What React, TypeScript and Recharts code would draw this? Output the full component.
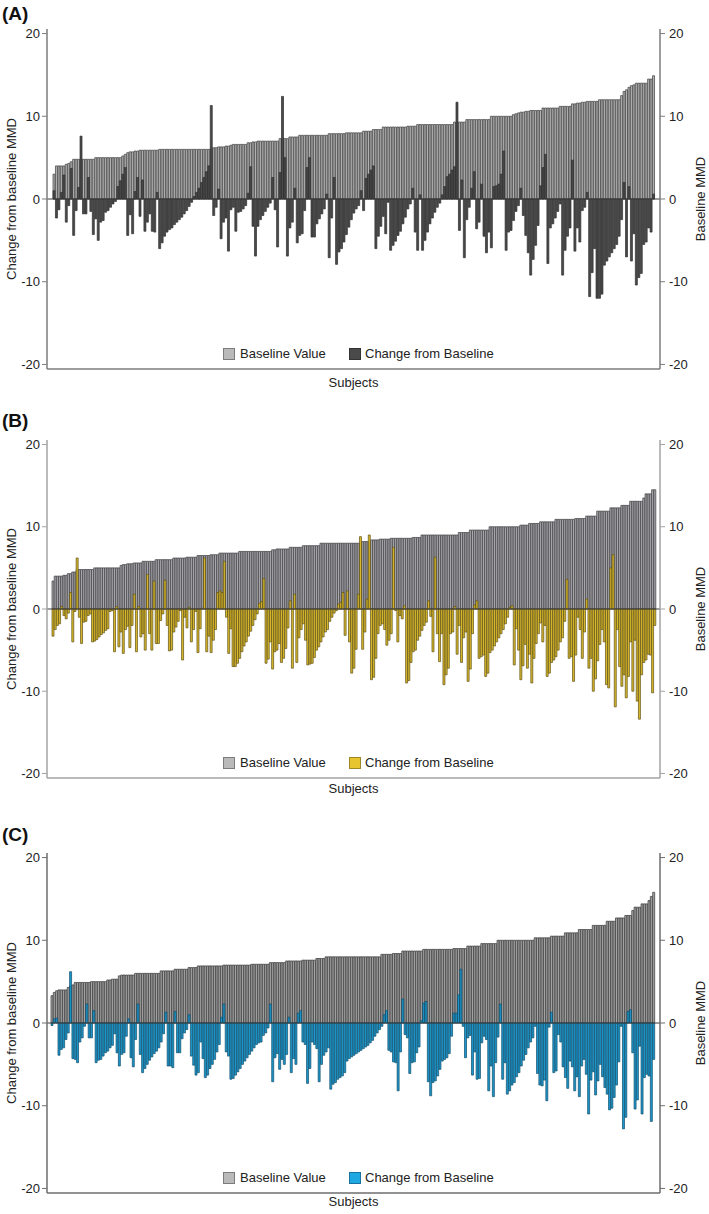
import React from 'react';
import { ComposedChart, Bar, XAxis, YAxis, ReferenceLine, Legend } from 'recharts';

const FONT = '"Liberation Sans", Arial, Helvetica, sans-serif';
const Y_TICKS = [-20, -10, 0, 10, 20];

// ---- Panel A ----
const baselineA = [
  3.0, 4.0, 4.0, 4.0, 4.0, 4.2, 4.3, 4.5,
  4.8, 4.8, 4.8, 4.8, 4.8, 4.8, 4.8, 4.8, 4.8,
  5.0, 5.0, 5.0, 5.0, 5.0, 5.0, 5.0, 5.0, 5.0, 5.0, 5.0,
  5.2, 5.4, 5.6, 5.7, 5.7, 5.8, 5.8,
  5.9, 5.9, 5.9, 5.9, 5.9, 5.9, 5.9, 5.9,
  6.0, 6.0, 6.0, 6.0, 6.0, 6.0, 6.0, 6.0, 6.0, 6.0, 6.0,
  6.0, 6.0, 6.0, 6.0, 6.0, 6.0, 6.0, 6.0, 6.0, 6.0, 6.0,
  6.2, 6.2, 6.3, 6.3, 6.3, 6.4, 6.4, 6.5,
  6.6, 6.6, 6.6, 6.6, 6.6, 6.6,
  6.8, 6.8, 6.9, 6.9, 7.0, 7.0, 7.0, 7.0,
  7.0, 7.0, 7.0, 7.0, 7.0,
  7.3, 7.3, 7.3, 7.3,
  7.5, 7.5, 7.5, 7.5,
  7.7, 7.7, 7.7, 7.7, 7.7, 7.7, 7.7, 7.7, 7.7, 7.7, 7.7, 7.7,
  7.9, 7.9, 7.9, 7.9, 7.9, 7.9, 7.9,
  8.0, 8.0, 8.0, 8.0, 8.0, 8.0, 8.0,
  8.2, 8.2, 8.2, 8.2,
  8.4, 8.4, 8.4, 8.4,
  8.7, 8.7, 8.7, 8.7, 8.7, 8.7, 8.7, 8.7, 8.7, 8.7,
  8.8, 8.8, 8.8, 8.8,
  9.0, 9.0, 9.0, 9.0, 9.0, 9.0, 9.0, 9.0, 9.0, 9.0, 9.0, 9.0, 9.0, 9.0, 9.0,
  9.3, 9.3, 9.3, 9.3, 9.3,
  9.6, 9.6, 9.6, 9.6, 9.6, 9.6, 9.6, 9.6, 9.6, 9.6,
  10.0, 10.0, 10.0, 10.0, 10.0, 10.0, 10.0, 10.0, 10.0,
  10.2, 10.3, 10.4, 10.5, 10.5, 10.6, 10.6,
  10.7, 10.7, 10.7, 10.7, 10.7,
  11.0, 11.0, 11.0, 11.0, 11.0, 11.0, 11.0,
  11.2, 11.2, 11.2, 11.2, 11.2,
  11.5, 11.5, 11.6, 11.6, 11.7, 11.7,
  11.8, 11.8, 11.8, 11.8, 11.8,
  12.0, 12.0, 12.0, 12.0, 12.0, 12.0, 12.0, 12.0, 12.0,
  12.5, 13.0, 13.2, 13.5, 13.7, 13.8,
  14.0, 14.0, 14.0, 14.0, 14.0,
  14.5, 14.5, 14.9,
];

const changeA = [
  1.0, -2.3, -1.3, 0.8, 2.9, -2.8, -0.8, 3.7, -4.4, -1.4,
  1.4, 7.6, -1.8, -1.8, 2.6, -1.5, -4.3, -2.4, -5.0, -2.8,
  -2.6, -1.6, -1.4, -1.0, -0.6, -0.3, 1.5, 2.2, 3.0, 3.8,
  -4.4, -1.9, -4.2, 0.9, 2.6, -2.1, 2.3, -3.9, -2.8, -1.8,
  -3.9, -4.0, 0.8, -6.0, -5.3, -4.5, -4.0, -3.7, -3.5, -3.1,
  -2.8, -2.5, -2.2, -1.8, -1.4, -0.9, -0.4, 0.3, 0.8, 1.3,
  2.0, 2.6, 3.3, 4.0, 11.3, -2.0, -1.0, 1.2, -4.8, -2.8,
  -2.3, -6.3, -1.3, -1.0, -3.9, -1.6, -1.5, -1.2, -0.8, 0.7,
  3.9, -3.3, -6.9, -3.3, -2.5, -2.0, -1.5, -1.0, -0.5, 2.6,
  -1.3, -5.8, 3.2, 12.4, 5.0, -6.9, -3.5, -2.8, 1.3, -5.3,
  -4.4, -4.2, -1.4, 3.8, 5.0, -4.6, -4.6, -3.0, -2.4, -1.8,
  -1.2, 0.6, -7.1, -2.3, 2.6, -7.9, -6.4, -6.0, -5.2, -4.3,
  -3.4, -2.5, -1.7, -1.2, -0.8, 1.0, -1.4, 2.5, 3.0, 3.5,
  4.0, -6.0, -4.5, -3.3, -2.1, -4.2, -0.4, -6.2, -5.6, -5.1,
  -4.4, -3.9, -3.0, -2.2, -1.2, -0.6, 1.3, -4.0, -6.2, 0.5,
  -6.2, -5.0, -4.0, -3.0, -2.3, -1.6, -1.0, -0.5, 0.5, 1.5,
  2.7, 3.0, 3.5, 3.9, 11.7, -3.8, 2.3, -7.1, -2.5, -1.0,
  1.3, 3.3, -3.6, -2.8, 1.8, -4.5, -6.5, -4.0, -5.9, 1.5,
  1.6, 1.8, 3.0, 5.8, -6.2, -4.0, -3.8, -2.6, -1.5, -0.8,
  1.3, -2.0, -4.4, -6.5, -9.2, -7.3, -5.6, -3.2, 1.6, 3.8,
  5.4, -7.8, -3.5, -3.0, -2.3, -1.5, -0.6, -9.2, -6.2, -4.5,
  -3.5, 4.7, -6.3, -3.5, -5.2, -1.4, -1.0, 0.8, -11.8, -8.9,
  -6.0, -12.0, -12.0, -11.5, -8.0, -7.5, -7.0, -6.5, -6.0, -5.5,
  -4.5, -2.5, 2.0, -7.0, 1.5, -7.5, -4.2, -10.4, -9.5, -9.0,
  -5.5, -5.2, -3.5, -4.0, 0.6,
];

// ---- Panel B ----
const baselineB = [
  3.4, 4.0, 4.0, 4.0, 4.0, 4.1, 4.1, 4.3, 4.3, 4.5, 4.5,
  4.8, 4.8, 4.8, 4.8, 4.8, 4.8, 4.8, 4.8,
  5.0, 5.0, 5.0, 5.0, 5.0, 5.0, 5.0, 5.0, 5.0, 5.0, 5.0, 5.0,
  5.3, 5.4, 5.4, 5.5, 5.5, 5.5,
  5.6, 5.6, 5.6, 5.6,
  5.8, 5.8, 5.8, 5.8, 5.8, 5.8,
  6.0, 6.0, 6.0, 6.0, 6.0, 6.0, 6.0, 6.0,
  6.2, 6.2, 6.2, 6.2, 6.2, 6.2,
  6.3, 6.3, 6.3, 6.3, 6.3,
  6.5, 6.5, 6.5, 6.5, 6.5, 6.5,
  6.6, 6.6, 6.6, 6.6,
  6.8, 6.8, 6.8, 6.8, 6.8, 6.8, 6.8, 6.8, 6.8,
  7.0, 7.0, 7.0, 7.0, 7.0, 7.0, 7.0, 7.0, 7.0, 7.0, 7.0, 7.0, 7.0, 7.0, 7.0,
  7.2, 7.2, 7.3, 7.3, 7.3, 7.3, 7.3, 7.3,
  7.5, 7.5, 7.5, 7.5, 7.5, 7.5,
  7.7, 7.7, 7.7, 7.7, 7.7, 7.7, 7.7, 7.7,
  8.0, 8.0, 8.0, 8.0, 8.0, 8.0, 8.0, 8.0, 8.0, 8.0,
  8.0, 8.0, 8.0, 8.0, 8.0, 8.0, 8.0, 8.0, 8.0,
  8.2, 8.2, 8.2, 8.2,
  8.4, 8.4, 8.4, 8.4,
  8.5, 8.5, 8.5, 8.5, 8.5,
  8.6, 8.6, 8.6, 8.6, 8.6, 8.6, 8.6, 8.6, 8.6, 8.6,
  8.7, 8.7, 8.7, 8.7,
  9.0, 9.0, 9.0, 9.0, 9.0, 9.0, 9.0, 9.0, 9.0, 9.0,
  9.0, 9.0, 9.0, 9.0, 9.0, 9.0, 9.0,
  9.3, 9.3, 9.3, 9.3, 9.3,
  9.6, 9.6, 9.6, 9.6, 9.6, 9.6, 9.6, 9.6, 9.6,
  10.0, 10.0, 10.0, 10.0, 10.0, 10.0, 10.0, 10.0, 10.0, 10.0, 10.0, 10.0, 10.0, 10.0,
  10.2, 10.2, 10.2, 10.2,
  10.4, 10.4, 10.4, 10.4, 10.4,
  10.6, 10.6, 10.6, 10.6, 10.6, 10.6, 10.6,
  10.9, 10.9, 10.9, 10.9, 10.9, 10.9, 10.9, 10.9, 10.9,
  11.0, 11.0, 11.0, 11.0, 11.0,
  11.3, 11.3, 11.3, 11.3, 11.3,
  11.9, 11.9, 11.9, 11.9, 11.9, 11.9,
  12.3, 12.3, 12.3, 12.3, 12.3,
  12.6, 12.6, 12.6, 12.6,
  13.1, 13.1, 13.1, 13.1, 13.1, 13.1,
  13.5, 14.0, 14.0, 14.0, 14.5, 14.5,
];

const changeB = [
  -3.3, -2.5, -2.0, -1.8, 0.3, -0.8, -1.2, -0.5, 2.0, -4.0,
  -0.3, 6.2, -1.0, -4.2, -1.6, -1.5, -0.8, -0.6, -4.0, -3.9,
  -3.7, -3.4, -3.1, -2.9, -2.6, -2.4, -0.3, -0.2, -5.2, 0.3,
  -4.6, -2.8, -5.4, -2.5, -2.1, -4.7, -2.0, 1.8, -5.2, 0.3,
  -3.4, -3.0, -5.0, 4.2, -3.0, -5.0, 3.4, -4.2, -4.2, -1.4,
  -0.6, 3.5, -2.0, -5.1, -5.0, -2.8, -2.2, -1.5, -0.2, -6.2,
  -1.0, -2.3, 0.2, -4.0, -2.5, -0.3, -5.3, -2.4, 0.1, 6.2,
  -5.2, -3.3, -5.3, -3.8, -2.5, 2.0, 2.2, 2.0, 5.8, -1.0,
  -5.4, -2.4, -7.0, -7.0, -6.6, -6.0, -5.2, -4.5, -4.0, -3.3,
  -2.7, -2.0, -1.3, -0.6, 0.7, 0.9, 3.7, -6.6, -6.1, -4.0,
  -7.3, -5.2, -5.0, -4.2, -6.5, -6.0, -4.8, -2.3, 1.0, -7.2,
  1.8, -6.5, -3.5, -2.5, -1.8, -3.8, -6.8, -6.7, -6.6, -5.9,
  -5.0, -4.6, -4.0, -3.4, -2.8, -2.5, -1.5, -1.0, -0.5, -0.2,
  0.6, 0.8, 2.0,
  -3.2, 2.2, -4.0, -7.8, -7.2, -4.9, 1.8, 8.8, -4.9, -2.8,
  1.2, 9.0, -8.6, -8.3, -6.0, -3.0, -2.0, -1.8, -2.5, -4.4,
  -3.8, -3.0, 7.5, -0.2, -4.0, -0.8, -1.2, 0.4, -9.0, -8.7,
  -6.5, -5.2, -5.0, -3.8, -3.3, -2.6, -2.0, -1.6, 1.0, -0.9,
  -5.2, 6.3, -3.0, -6.4, -3.0, -9.2, -8.0, -7.2, -3.0, -2.8,
  0.3, -5.5, -2.0, -6.5, -3.5, -2.8, -8.8, -7.3, -3.0, 0.5,
  1.0, -6.0, -5.8, -5.6, -8.2, -7.8, -5.3, -5.0, -4.5, -4.0,
  -3.5, -3.0, -2.5, -1.8, -1.0, 0.2, 0.4, -6.8, -2.4, -5.0,
  -8.6, -6.9, -4.3, -7.2, -5.5, -9.0, -6.0, -4.2, -3.0, -1.7,
  -4.0, -2.0, -8.2, -7.8, -6.5, -6.2, -5.8, -5.0, -4.0, -3.5,
  -1.5, 3.6, -6.0, -5.8, -8.8, -5.6, -1.0, -2.5, -6.0, -2.8,
  1.2, -7.2, -6.0, -10.0, -8.5, -6.3, -4.3, -2.5, -4.0, -9.2,
  -9.6, 5.0, 6.6, -11.9, -2.5, -7.0, -9.4, -8.0, -10.8, -8.2,
  -4.0, -10.0, -3.8, -11.2, -13.4, -8.0, -6.5, -6.2, -5.5, -5.6,
  -10.2, -2.0,
];

// ---- Panel C ----
const baselineC = [
  3.3, 3.7, 3.9, 4.0, 4.0, 4.0, 4.0, 4.3, 4.5, 4.6,
  4.9, 4.9, 4.9, 4.9, 4.9, 4.9, 4.9,
  5.0, 5.0, 5.0, 5.0, 5.0, 5.0, 5.0,
  5.2, 5.2, 5.3, 5.3, 5.3,
  5.7, 5.8, 5.8, 5.8, 5.8, 5.8, 5.8,
  6.0, 6.0, 6.0, 6.0, 6.0, 6.0, 6.0, 6.0, 6.0, 6.0, 6.0,
  6.3, 6.3, 6.3, 6.3, 6.3, 6.3,
  6.5, 6.5, 6.5, 6.5, 6.5, 6.5,
  6.7, 6.7, 6.7, 6.7,
  6.9, 6.9, 6.9, 6.9, 6.9, 6.9, 6.9, 6.9, 6.9, 6.9, 6.9,
  7.0, 7.0, 7.0, 7.0, 7.0, 7.0, 7.0, 7.0, 7.0, 7.0, 7.0, 7.0,
  7.1, 7.1, 7.1, 7.1, 7.1, 7.1, 7.1, 7.1,
  7.3, 7.3, 7.3, 7.3, 7.3, 7.3, 7.3,
  7.5, 7.5, 7.5, 7.5, 7.5, 7.5, 7.5,
  7.6, 7.6, 7.6, 7.6, 7.6, 7.6,
  7.8, 7.8, 7.8, 7.8,
  8.0, 8.0, 8.0, 8.0, 8.0, 8.0, 8.0, 8.0, 8.0, 8.0, 8.0, 8.0,
  8.0, 8.0, 8.0, 8.0, 8.0, 8.0, 8.0, 8.0, 8.0, 8.0, 8.0, 8.0,
  8.3, 8.3, 8.3, 8.3, 8.3,
  8.4, 8.4, 8.4, 8.4,
  8.7, 8.7, 8.7, 8.7, 8.7, 8.7, 8.7, 8.7, 8.7,
  8.9, 8.9, 8.9, 8.9, 8.9, 8.9, 8.9, 8.9, 8.9, 8.9, 8.9, 8.9, 8.9,
  9.0, 9.0, 9.0, 9.0, 9.0, 9.0,
  9.3, 9.3, 9.3, 9.3, 9.3, 9.3,
  9.6, 9.6, 9.6, 9.6, 9.6, 9.6, 9.6,
  10.0, 10.0, 10.0, 10.0, 10.0, 10.0, 10.0, 10.0,
  10.0, 10.0, 10.0, 10.0, 10.0, 10.0, 10.0, 10.0,
  10.3, 10.3, 10.3, 10.3, 10.3, 10.3, 10.3,
  10.5, 10.5, 10.5, 10.5, 10.5, 10.5,
  10.9, 10.9, 10.9, 10.9, 10.9, 10.9,
  11.3, 11.3, 11.3, 11.3, 11.3, 11.3,
  11.8, 11.8, 11.8, 11.8, 11.8, 11.8,
  12.3, 12.3, 12.3, 12.3,
  12.7, 12.7, 12.7, 12.7,
  13.0, 13.0, 13.0, 13.6,
  14.0, 14.0, 14.0, 14.4, 14.4, 14.4, 14.8, 15.3, 15.8,
];

const changeC = [
  -0.3, 0.5, 0.6, -3.9, -3.2, -3.0, -2.0, -1.2, 6.2, -4.3,
  -4.4, -4.8, -2.3, -1.8, -0.4, 2.3, -1.8, -1.8, 1.5, -4.8,
  -4.5, -4.4, -4.0, -3.6, -3.4, -3.0, -2.7, -1.3, -3.6, -5.2,
  -3.8, -3.6, -1.6, 0.5, -4.2, -5.3, -2.0, 2.3, -3.8, -6.0,
  -5.5, -5.0, -4.5, -4.1, -3.7, -3.4, -3.0, -2.3, -1.3, 1.3,
  -5.2, -5.2, -5.4, 1.4, -3.6, -3.6, -1.9, -1.2, -0.8, 1.0,
  -4.0, -5.1, -6.3, -6.0, -2.3, -4.3, -6.6, -6.3, -5.5, -5.0,
  -4.4, -3.5, -2.6, 0.7, 2.3, -3.5, -4.0, -6.8, -6.7, -6.3,
  -5.9, -5.5, -5.0, -4.6, -4.2, -3.8, -3.4, -3.0, -2.6, -2.4,
  -2.3, -1.5, -1.2, -0.6, 2.3, -7.1, -4.2, -3.7, -5.6, -4.4,
  -5.0, -3.8, 0.7, -6.0, -4.3, -5.0, 1.2, 1.5, -2.3, -2.6,
  -7.3, -5.5, -2.3, -2.6, -3.1, -7.1, -5.0, -3.9, -3.5, -3.0,
  -8.0, -7.4, -7.2, -6.8, -6.6, -6.4, -6.0, -4.6, -4.3, -4.1,
  -3.9, -3.7, -3.5, -3.3, -3.1, -2.9,
  -2.7, -2.4, -2.1, -1.6, -1.2, -0.8, -0.4, 1.0, 1.5, -3.3,
  -3.5, -4.7, -4.8, -8.2, -3.5, 2.9, -1.4, -1.8, -6.1, -4.8,
  -4.7, -3.6, -2.9, 0.3, 2.4, 2.6, -7.1, -8.8, -7.2, -7.0,
  -6.4, -5.6, -4.6, -4.4, -4.2, -3.7, -1.6, 1.2, 1.2, 3.4,
  6.5, -0.4, -4.2, -1.8, -1.5, -6.3, -3.5, -6.8, -6.7, -2.4,
  -1.6, -2.0, -8.2, -5.2, -8.9, -4.8, -1.7, 2.3, -6.8, -4.8,
  -8.6, -8.2, -7.5, -7.2, -6.5, -6.0, -5.2, -4.5, -3.8, -3.0,
  -2.3, -1.8, -0.4, -6.1, -7.5, -7.6, -6.9, -9.4, -0.5, 1.3,
  -6.0, -5.8, -1.4, -2.3, -5.3, -6.6, -7.9, -4.6, -5.3, -8.2,
  -6.5, -8.9, -5.2, -4.4, -6.2, -11.0, -6.9, -5.9, -8.7, -7.0,
  -5.0, -6.5, -7.8, -8.6, -10.5, -10.3, -9.0, -7.5, -4.7, -0.4,
  -12.8, -11.4, 1.4, 1.6, -3.6, -10.4, -9.3, -2.8, -11.0, -6.6,
  -6.2, -6.4, -11.9, -4.4,
];

interface PanelProps {
  tag: string;
  top: number;
  height: number;
  titleTop: number;
  baseline: number[];
  change: number[];
  baseFill: string;
  baseStroke: string;
  changeFill: string;
  changeStroke: string;
  swatchFill: string;
  swatchBorder: string;
  frame: string;
  padLeft: number;
  padRight: number;
  xAxisHeight: number;
  subjectsOffset: number;
  legendTop: number;
}

const PanelLegend = ({ swatchFill, swatchBorder }: { swatchFill: string; swatchBorder: string }) => (
  <div style={{ position: 'relative', width: 709, height: 16, fontFamily: FONT, fontSize: 13, color: '#222' }}>
    <span style={{ position: 'absolute', left: 223, top: 2, width: 12, height: 12, boxSizing: 'border-box', background: '#bababa', border: '1px solid #7c7c7c' }} />
    <span style={{ position: 'absolute', left: 240, top: 0, lineHeight: '16px', whiteSpace: 'nowrap' }}>Baseline Value</span>
    <span style={{ position: 'absolute', left: 349, top: 2, width: 12, height: 12, boxSizing: 'border-box', background: swatchFill, border: `1px solid ${swatchBorder}` }} />
    <span style={{ position: 'absolute', left: 365, top: 0, lineHeight: '16px', whiteSpace: 'nowrap' }}>Change from Baseline</span>
  </div>
);

const Panel = (p: PanelProps) => {
  const data = p.change.map((c, i) => ({ subject: `S${i + 1}`, baseline: p.baseline[i], change: c }));
  const tick = { fill: '#222', fontSize: 13, fontFamily: FONT };
  return (
    <>
      <div style={{ position: 'absolute', left: 2, top: p.titleTop, fontFamily: FONT, fontWeight: 'bold', fontSize: 19, lineHeight: '20px', color: '#111', zIndex: 2 }}>
        {p.tag}
      </div>
      <div style={{ position: 'absolute', left: 0, top: p.top }}>
        <ComposedChart
          width={709}
          height={p.height}
          data={data}
          margin={{ top: 29, right: 0, bottom: 1, left: 0 }}
          barCategoryGap={0}
          barGap={0}
        >
          <XAxis
            xAxisId="bottom"
            dataKey="subject"
            tick={false}
            tickLine={false}
            height={p.xAxisHeight}
            axisLine={{ stroke: p.frame, strokeWidth: 1.5 }}
            padding={{ left: p.padLeft, right: p.padRight }}
            label={{ value: 'Subjects', position: 'insideTop', offset: p.subjectsOffset, fill: '#222', fontSize: 13, fontFamily: FONT }}
          />
          <XAxis
            xAxisId="top"
            orientation="top"
            dataKey="subject"
            tick={false}
            tickLine={false}
            height={0}
            axisLine={{ stroke: p.frame, strokeWidth: 1.5 }}
            padding={{ left: p.padLeft, right: p.padRight }}
          />
          <YAxis
            yAxisId="left"
            width={47}
            domain={[-20.55, 20.55]}
            ticks={Y_TICKS}
            tick={tick}
            tickSize={5}
            tickMargin={2}
            tickLine={{ stroke: p.frame }}
            axisLine={{ stroke: p.frame, strokeWidth: 1.5 }}
            label={{ value: 'Change from baseline MMD', angle: -90, position: 'insideLeft', offset: 11, fill: '#222', fontSize: 13, fontFamily: FONT, style: { textAnchor: 'middle' } }}
          />
          <YAxis
            yAxisId="right"
            orientation="right"
            width={49}
            domain={[-20.55, 20.55]}
            ticks={Y_TICKS}
            tick={tick}
            tickSize={5}
            tickMargin={4}
            tickLine={{ stroke: p.frame }}
            axisLine={{ stroke: p.frame, strokeWidth: 1.5 }}
            label={{ value: 'Baseline MMD', angle: -90, position: 'insideRight', offset: 9, fill: '#222', fontSize: 13, fontFamily: FONT, style: { textAnchor: 'middle' } }}
          />
          <Bar
            xAxisId="bottom"
            yAxisId="right"
            dataKey="baseline"
            name="Baseline Value"
            fill={p.baseFill}
            stroke={p.baseStroke}
            strokeWidth={0.75}
            isAnimationActive={false}
          />
          <Bar
            xAxisId="top"
            yAxisId="left"
            dataKey="change"
            name="Change from Baseline"
            fill={p.changeFill}
            stroke={p.changeStroke}
            strokeWidth={0.7}
            isAnimationActive={false}
          />
          <ReferenceLine xAxisId="bottom" yAxisId="left" y={0} stroke="#3a3a3a" strokeWidth={1} />
          <Legend
            layout="horizontal"
            verticalAlign="middle"
            align="center"
            wrapperStyle={{ left: 0, top: p.legendTop, width: 709, margin: 0 }}
            content={() => <PanelLegend swatchFill={p.swatchFill} swatchBorder={p.swatchBorder} />}
          />
        </ComposedChart>
      </div>
    </>
  );
};

export default function App() {
  return (
    <div style={{ position: 'relative', width: 709, height: 1214, background: '#fff', overflow: 'hidden' }}>
      <style>{'body{margin:0}'}</style>
      <Panel
        tag="(A)" top={0} height={400} titleTop={4}
        baseline={baselineA} change={changeA}
        baseFill="#b3b3b3" baseStroke="#474747"
        changeFill="#4a4a4a" changeStroke="#2e2e2e"
        swatchFill="#4a4a4a" swatchBorder="#333"
        frame="#7d7d7d" padLeft={6} padRight={5}
        xAxisHeight={30} subjectsOffset={9} legendTop={346}
      />
      <Panel
        tag="(B)" top={411} height={398} titleTop={411}
        baseline={baselineB} change={changeB}
        baseFill="#a9a9ad" baseStroke="#46464a"
        changeFill="#d9b92c" changeStroke="#5e5014"
        swatchFill="#e6c52e" swatchBorder="#9c8626"
        frame="#a3a3a3" padLeft={5} padRight={4}
        xAxisHeight={30} subjectsOffset={6} legendTop={344}
      />
      <Panel
        tag="(C)" top={824} height={390} titleTop={825}
        baseline={baselineC} change={changeC}
        baseFill="#a6a6a6" baseStroke="#3e3e3e"
        changeFill="#1d97cc" changeStroke="#0f4d6a"
        swatchFill="#1fa8e2" swatchBorder="#1873a0"
        frame="#6e6e6e" padLeft={4} padRight={5}
        xAxisHeight={20} subjectsOffset={4} legendTop={346}
      />
    </div>
  );
}
